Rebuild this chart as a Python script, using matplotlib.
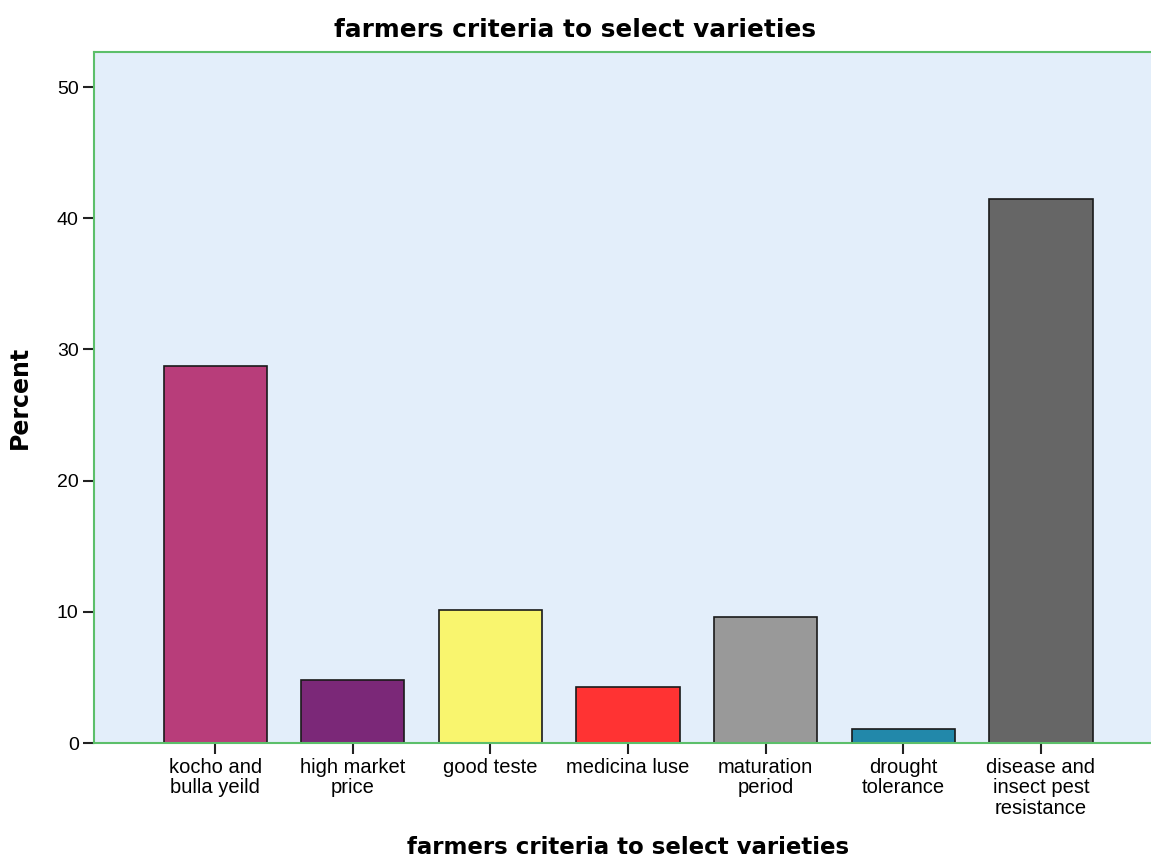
import matplotlib.pyplot as plt

# ======= Data =======
categories = ["kocho and\nbulla yeild", "high market\nprice", "good teste",
              "medicina luse", "maturation\nperiod", "drought\ntolerance",
              "disease and\ninsect pest\nresistance"]
percent = [28.7, 4.8, 10.1, 4.3, 9.6, 1.1, 41.5]
bar_colors = ["#B83D7A", "#7B2878", "#F9F56E", "#FF3333", "#999999", "#2288AA", "#666666"]

# ======= Plot =======
fig = plt.figure(figsize=(11.51, 8.59), dpi=100)
ax = fig.add_axes([94/1151, 1 - 743/859, 1 - 94/1151, (743 - 52)/859])
ax.set_facecolor("#E3EEFA")

x = list(range(len(categories)))
ax.bar(x, percent, width=0.75, color=bar_colors, edgecolor="#1a1a1a", linewidth=1.2, zorder=2)

ax.set_xlim(-0.88, 6.80)
ax.set_ylim(0, 52.67)
ax.set_yticks([0, 10, 20, 30, 40, 50])
ax.set_xticks(x)
ax.set_xticklabels(categories, family="Liberation Sans", fontsize=14.5, linespacing=1.08)
for lbl in ax.get_yticklabels():
    lbl.set_family("Liberation Sans")
    lbl.set_fontsize(14)
ax.tick_params(axis="both", length=8, width=1.5, color="#222222", pad=3)

for side in ["left", "bottom", "top"]:
    ax.spines[side].set_color("#5CBF6A")
    ax.spines[side].set_linewidth(1.5)
ax.spines["right"].set_visible(False)

# title is centred on the figure, not on the axes
fig.text(0.5, 1 - 30/859, "farmers criteria to select varieties", fontsize=17.8,
         fontweight="bold", family="DejaVu Sans", ha="center", va="center")
ax.set_xlabel("farmers criteria to select varieties", fontsize=16.5, fontweight="bold",
              family="DejaVu Sans")
ax.xaxis.set_label_coords(0.505, -(848 - 743) / (743 - 52), transform=ax.transAxes)
ax.xaxis.label.set_va("center")
ax.set_ylabel("Percent", fontsize=17, fontweight="bold", family="DejaVu Sans", labelpad=18)

fig.savefig("out.png", dpi=100)
